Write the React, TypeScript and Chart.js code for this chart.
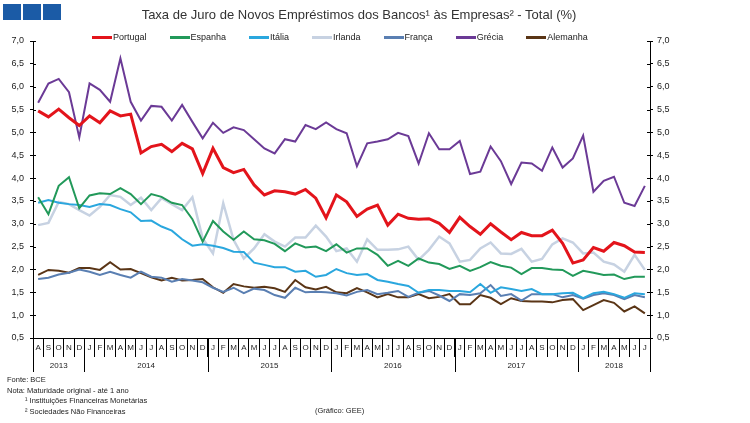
import React, { useEffect, useRef } from 'react';
import { Chart, registerables } from 'chart.js';

Chart.register(...registerables);

const monthLabels = [
  'A', 'S', 'O', 'N', 'D',
  'J', 'F', 'M', 'A', 'M', 'J', 'J', 'A', 'S', 'O', 'N', 'D',
  'J', 'F', 'M', 'A', 'M', 'J', 'J', 'A', 'S', 'O', 'N', 'D',
  'J', 'F', 'M', 'A', 'M', 'J', 'J', 'A', 'S', 'O', 'N', 'D',
  'J', 'F', 'M', 'A', 'M', 'J', 'J', 'A', 'S', 'O', 'N', 'D',
  'J', 'F', 'M', 'A', 'M', 'J', 'J',
];
const yearLabels = ['2013', '2014', '2015', '2016', '2017', '2018'];
const yearMonthCounts = [5, 12, 12, 12, 12, 7];
const yTicks = [0.5, 7.0];

const portugal = [
  5.47, 5.34, 5.51, 5.32, 5.15, 5.36, 5.21, 5.47, 5.36, 5.40, 4.55, 4.69, 4.74, 4.58, 4.76, 4.64, 4.10, 4.65, 4.23, 4.12,
  4.19, 3.85, 3.63, 3.72, 3.70, 3.65, 3.75, 3.56, 3.13, 3.63, 3.48, 3.16, 3.32, 3.41, 2.97, 3.21, 3.12, 3.10, 3.11, 3.01,
  2.81, 3.14, 2.94, 2.77, 3.00, 2.82, 2.65, 2.81, 2.74, 2.74, 2.86, 2.57, 2.14, 2.21, 2.48, 2.40, 2.59, 2.52, 2.38, 2.37,
];
const espanha = [
  3.58, 3.21, 3.83, 4.02, 3.34, 3.62, 3.67, 3.65, 3.78, 3.65, 3.43, 3.65, 3.59, 3.46, 3.41, 3.10, 2.61, 3.06, 2.83, 2.65,
  2.83, 2.66, 2.64, 2.56, 2.40, 2.57, 2.48, 2.50, 2.40, 2.55, 2.37, 2.46, 2.46, 2.32, 2.08, 2.19, 2.08, 2.24, 2.15, 2.12,
  2.01, 2.08, 1.97, 2.05, 2.16, 2.08, 2.04, 1.90, 2.03, 2.03, 2.00, 1.99, 1.86, 1.97, 1.93, 1.88, 1.89, 1.79, 1.84, 1.84,
];
const italia = [
  3.46, 3.52, 3.46, 3.43, 3.41, 3.37, 3.43, 3.41, 3.32, 3.25, 3.06, 3.07, 2.94, 2.85, 2.66, 2.52, 2.55, 2.52, 2.47, 2.39,
  2.38, 2.15, 2.10, 2.05, 2.05, 1.95, 1.97, 1.84, 1.88, 2.01, 1.92, 1.88, 1.90, 1.77, 1.73, 1.68, 1.64, 1.49, 1.55, 1.55,
  1.53, 1.53, 1.50, 1.68, 1.49, 1.61, 1.57, 1.53, 1.57, 1.46, 1.46, 1.48, 1.49, 1.37, 1.48, 1.51, 1.46, 1.38, 1.48, 1.46,
];
const irlanda = [
  2.97, 3.02, 3.48, 3.43, 3.30, 3.18, 3.37, 3.63, 3.59, 3.41, 3.57, 3.30, 3.56, 3.43, 3.30, 3.58, 2.68, 2.35, 3.45, 2.65,
  2.24, 2.46, 2.77, 2.61, 2.50, 2.70, 2.70, 2.96, 2.72, 2.40, 2.46, 2.17, 2.66, 2.43, 2.43, 2.44, 2.50, 2.21, 2.43, 2.72,
  2.57, 2.17, 2.21, 2.46, 2.59, 2.35, 2.34, 2.45, 2.17, 2.23, 2.55, 2.68, 2.59, 2.35, 2.37, 2.17, 2.11, 1.95, 2.32, 1.99,
];
const franca = [
  1.79, 1.82, 1.89, 1.93, 2.00, 1.95, 1.88, 1.95, 1.88, 1.82, 1.95, 1.84, 1.82, 1.73, 1.79, 1.76, 1.72, 1.60, 1.51, 1.60,
  1.48, 1.58, 1.55, 1.44, 1.38, 1.60, 1.50, 1.51, 1.50, 1.48, 1.43, 1.51, 1.55, 1.46, 1.49, 1.53, 1.40, 1.49, 1.53, 1.43,
  1.31, 1.46, 1.44, 1.48, 1.66, 1.42, 1.46, 1.32, 1.46, 1.46, 1.46, 1.39, 1.44, 1.36, 1.44, 1.48, 1.44, 1.35, 1.44, 1.39,
];
const grecia = [
  5.65, 6.07, 6.17, 5.88, 4.89, 6.07, 5.93, 5.67, 6.62, 5.67, 5.26, 5.58, 5.56, 5.26, 5.60, 5.23, 4.87, 5.21, 4.99, 5.11,
  5.05, 4.85, 4.65, 4.54, 4.85, 4.80, 5.16, 5.07, 5.22, 5.07, 4.98, 4.26, 4.76, 4.80, 4.85, 4.99, 4.92, 4.32, 4.98, 4.63,
  4.63, 4.81, 4.09, 4.14, 4.69, 4.37, 3.87, 4.34, 4.32, 4.16, 4.67, 4.23, 4.43, 4.93, 3.70, 3.94, 4.03, 3.46, 3.39, 3.83,
];
const alemanha = [
  1.88, 1.99, 1.97, 1.93, 2.03, 2.03, 1.99, 2.16, 2.00, 2.01, 1.92, 1.83, 1.76, 1.82, 1.76, 1.77, 1.79, 1.61, 1.49, 1.68,
  1.63, 1.60, 1.62, 1.59, 1.51, 1.77, 1.61, 1.56, 1.62, 1.50, 1.48, 1.59, 1.50, 1.39, 1.46, 1.39, 1.39, 1.46, 1.37, 1.40,
  1.46, 1.24, 1.24, 1.44, 1.38, 1.24, 1.37, 1.31, 1.30, 1.30, 1.28, 1.33, 1.35, 1.11, 1.22, 1.33, 1.27, 1.08, 1.19, 1.04,
];

const seriesNames = ['Portugal', 'Espanha', 'Itália', 'Irlanda', 'França', 'Grécia', 'Alemanha'];
const seriesValues = [portugal, espanha, italia, irlanda, franca, grecia, alemanha];
const seriesColors = ['#e3141b', '#22995a', '#2aa7de', '#c7d2e2', '#5a7fb2', '#6b3a96', '#5a3516'];
const seriesWidths = [3, 2, 2, 2.5, 2, 2, 2];

const FONT = '"Liberation Sans", Arial, Helvetica, sans-serif';

const yearAxisPlugin = {
  id: 'yearAxis',
  afterDraw(chart: any) {
    const xs = chart.scales.x;
    const ctx = chart.ctx;
    const top = chart.chartArea.bottom;
    const half = (xs.getPixelForValue(1) - xs.getPixelForValue(0)) / 2;
    ctx.save();
    ctx.strokeStyle = '#000';
    ctx.lineWidth = 1;
    ctx.fillStyle = '#222';
    ctx.font = '8px ' + FONT;
    ctx.textAlign = 'center';
    ctx.textBaseline = 'middle';
    let start = 0;
    yearLabels.forEach((yl, k) => {
      const n = yearMonthCounts[k];
      const left = xs.getPixelForValue(start) - half;
      const right = xs.getPixelForValue(start + n - 1) + half;
      ctx.beginPath();
      ctx.moveTo(Math.round(left) + 0.5, top);
      ctx.lineTo(Math.round(left) + 0.5, top + 34);
      if (k === yearLabels.length - 1) {
        ctx.moveTo(Math.round(right) + 0.5, top);
        ctx.lineTo(Math.round(right) + 0.5, top + 34);
      }
      ctx.stroke();
      ctx.fillText(yl, (left + right) / 2, top + 28);
      start += n;
    });
    // inner half of the crossing y-axis tick marks
    ['y', 'y2'].forEach((id) => {
      const s = chart.scales[id];
      const dir = s.position === 'left' ? 1 : -1;
      const ax = s.position === 'left' ? chart.chartArea.left : chart.chartArea.right;
      ctx.beginPath();
      s.ticks.forEach((t: any) => {
        const py = Math.round(s.getPixelForValue(t.value)) + 0.5;
        ctx.moveTo(ax, py);
        ctx.lineTo(ax + dir * 3, py);
      });
      ctx.stroke();
    });
    ctx.restore();
  },
};

const fmt = (v: any) => Number(v).toFixed(1).replace('.', ',');

export default function App() {
  const ref = useRef<HTMLCanvasElement | null>(null);

  useEffect(() => {
    if (!ref.current) return;
    const yAxisBase = (position: 'left' | 'right', width: number) => ({
      type: 'linear' as const,
      position,
      min: yTicks[0],
      max: yTicks[1],
      ticks: {
        stepSize: 0.5,
        font: { size: 9, family: FONT },
        color: '#222',
        padding: position === 'left' ? 6 : 4,
        callback: fmt,
      },
      grid: { drawOnChartArea: false, tickLength: 3, color: '#000' },
      border: { color: '#000' },
      afterFit: (s: any) => { s.width = width; },
    });
    const chart = new Chart(ref.current, {
      type: 'line',
      data: {
        labels: monthLabels,
        datasets: seriesNames.map((name, i) => ({
          label: name,
          data: seriesValues[i],
          borderColor: seriesColors[i],
          backgroundColor: seriesColors[i],
          borderWidth: seriesWidths[i],
          pointRadius: 0,
          tension: 0,
          fill: false,
          yAxisID: 'y',
        })),
      },
      options: {
        responsive: false,
        animation: false,
        layout: { padding: { top: 41, left: 0, right: 0, bottom: 0 } },
        plugins: { legend: { display: false }, title: { display: false }, tooltip: { enabled: false } },
        scales: {
          x: {
            type: 'category',
            offset: true,
            ticks: {
              autoSkip: false,
              maxRotation: 0,
              minRotation: 0,
              padding: -14,
              font: { size: 8, family: FONT },
              color: '#222',
            },
            grid: { offset: true, drawOnChartArea: false, tickLength: 19, color: '#000' },
            border: { color: '#000' },
            afterFit: (s: any) => { s.height = 85; },
          },
          y: yAxisBase('left', 33),
          y2: yAxisBase('right', 100),
        },
      },
      plugins: [yearAxisPlugin],
    });
    return () => chart.destroy();
  }, []);

  const txt: React.CSSProperties = { position: 'absolute', fontFamily: FONT, color: '#222', whiteSpace: 'nowrap' };

  return (
    <div style={{ position: 'fixed', left: 0, top: 0, width: 750, height: 423, background: '#fff', overflow: 'hidden' }}>
      <canvas ref={ref} width={750} height={423} style={{ position: 'absolute', left: 0, top: 0, width: 750, height: 423 }} />
      {[3, 23, 43].map((l) => (
        <div key={l} style={{ position: 'absolute', left: l, top: 4, width: 18, height: 16, background: '#1b5ba6' }} />
      ))}
      <div style={{ ...txt, left: 0, width: 718, top: 8, textAlign: 'center', fontSize: 13, color: '#333', lineHeight: '14px' }}>
        Taxa de Juro de Novos Empréstimos dos Bancos¹ às Empresas² - Total (%)
      </div>
      <div style={{ position: 'absolute', left: 92, top: 31, height: 12, display: 'flex', alignItems: 'center', gap: 23 }}>
        {seriesNames.map((n, i) => (
          <div key={n} style={{ display: 'flex', alignItems: 'center' }}>
            <div style={{ width: 20, height: 3, background: seriesColors[i] }} />
            <span style={{ fontFamily: FONT, fontSize: 9, color: '#222', marginLeft: 1 }}>{n}</span>
          </div>
        ))}
      </div>
      <div style={{ ...txt, left: 7, top: 375, fontSize: 7.5, lineHeight: '10.5px' }}>
        <div>Fonte: BCE</div>
        <div>Nota: Maturidade original - até 1 ano</div>
        <div style={{ paddingLeft: 18 }}>¹ Instituições Financeiras Monetárias</div>
        <div style={{ paddingLeft: 18 }}>² Sociedades Não Financeiras</div>
      </div>
      <div style={{ ...txt, left: 315, top: 406, fontSize: 7.5 }}>(Gráfico: GEE)</div>
    </div>
  );
}
